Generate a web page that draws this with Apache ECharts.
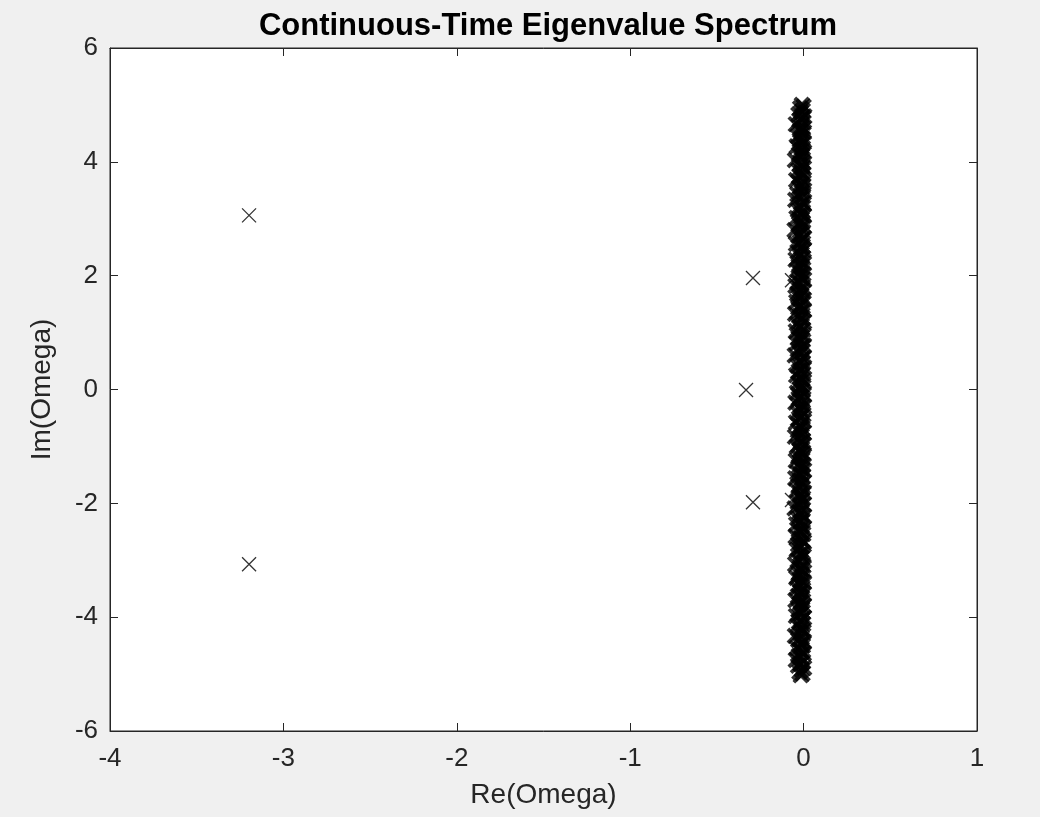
<!DOCTYPE html>
<html>
<head>
<meta charset="utf-8">
<script src="https://cdn.jsdelivr.net/npm/echarts@6/dist/echarts.min.js"></script>
<style>
html,body{margin:0;padding:0;background:#f0f0f0;}
#c{width:1040px;height:817px;}
</style>
</head>
<body>
<div id="c"></div>
<script>
const titleText = 'Continuous-Time Eigenvalue Spectrum';
const xName = 'Re(Omega)';
const yName = 'Im(Omega)';
const xTicks = [-4, -3, -2, -1, 0, 1];
const yTicks = [-6, -4, -2, 0, 2, 4, 6];

// isolated eigenvalues [re, im]
const outliers = [
  [-3.198, 3.06], [-3.198, -3.07],
  [-0.292, 1.96], [-0.332, -0.01], [-0.292, -1.98],
  [-0.067, 1.92], [-0.067, -1.94]
];

// dense band of eigenvalues near the imaginary axis [re, im]
const band = [
[-0.010,5.00],[0.000,4.97],[-0.020,4.94],[-0.005,4.90],[-0.015,4.87],[-0.030,4.83],[0.004,4.80],[-0.010,4.76],[-0.025,4.73],[0.000,4.69],
[-0.045,4.66],[-0.012,4.62],[-0.003,4.59],[-0.020,4.55],[0.002,4.52],[-0.016,4.48],[-0.034,4.45],[-0.006,4.41],[-0.022,4.38],[0.001,4.34],
[-0.011,4.31],[-0.040,4.27],[-0.004,4.24],[-0.018,4.20],[0.003,4.17],[-0.027,4.13],[-0.009,4.10],[-0.014,4.06],[-0.050,4.03],[-0.002,3.99],
[-0.021,3.96],[-0.007,3.92],[0.002,3.89],[-0.031,3.85],[-0.013,3.82],[-0.001,3.78],[-0.024,3.75],[-0.008,3.71],[-0.043,3.68],[0.000,3.64],
[-0.017,3.61],[-0.005,3.57],[-0.028,3.54],[0.003,3.50],[-0.012,3.47],[-0.036,3.43],[-0.002,3.40],[-0.019,3.36],[-0.048,3.33],[-0.006,3.29],
[0.001,3.26],[-0.023,3.22],[-0.010,3.19],[-0.033,3.15],[-0.004,3.12],[-0.015,3.08],[0.002,3.05],[-0.041,3.01],[-0.020,2.98],[-0.007,2.94],
[-0.026,2.91],[0.000,2.87],[-0.013,2.84],[-0.052,2.80],[-0.003,2.77],[-0.018,2.73],[-0.030,2.70],[0.003,2.66],[-0.009,2.63],[-0.022,2.59],
[-0.044,2.56],[-0.005,2.52],[-0.016,2.49],[0.001,2.45],[-0.035,2.42],[-0.011,2.38],[-0.024,2.35],[-0.002,2.31],[-0.046,2.28],[-0.014,2.24],
[0.002,2.21],[-0.029,2.17],[-0.008,2.14],[-0.038,2.10],[-0.019,2.07],[-0.001,2.03],[-0.025,2.00],[-0.010,1.96],[0.003,1.93],[-0.032,1.89],
[-0.015,1.86],[-0.047,1.82],[-0.004,1.79],[-0.021,1.75],[0.000,1.72],[-0.037,1.68],[-0.012,1.65],[-0.027,1.61],[0.002,1.58],[-0.042,1.54],
[-0.007,1.51],[-0.018,1.47],[-0.031,1.44],[0.001,1.40],[-0.013,1.37],[-0.049,1.33],[-0.023,1.30],[-0.005,1.26],[-0.016,1.23],[0.003,1.19],
[-0.039,1.16],[-0.010,1.12],[-0.026,1.09],[-0.002,1.05],[-0.045,1.02],[-0.017,0.98],[0.000,0.95],[-0.030,0.91],[-0.008,0.88],[-0.021,0.84],
[-0.040,0.81],[0.002,0.77],[-0.013,0.74],[-0.034,0.70],[-0.004,0.67],[-0.019,0.63],[-0.051,0.60],[0.001,0.56],[-0.011,0.53],[-0.025,0.49],
[-0.006,0.46],[-0.036,0.42],[0.003,0.39],[-0.015,0.35],[-0.028,0.32],[-0.002,0.28],[-0.043,0.25],[-0.020,0.21],[-0.009,0.18],[0.002,0.14],
[-0.032,0.11],[-0.014,0.07],[-0.001,0.04],[-0.024,0.01],
[-0.006,-0.02],[-0.038,-0.06],[0.001,-0.09],[-0.017,-0.13],[-0.029,-0.16],[-0.004,-0.20],[-0.047,-0.23],[-0.012,-0.27],[0.003,-0.30],[-0.022,-0.34],
[-0.009,-0.37],[-0.035,-0.41],[-0.001,-0.44],[-0.016,-0.48],[-0.027,-0.51],[0.002,-0.55],[-0.044,-0.58],[-0.011,-0.62],[-0.020,-0.65],[-0.005,-0.69],
[-0.033,-0.72],[0.000,-0.76],[-0.014,-0.79],[-0.050,-0.83],[-0.025,-0.86],[-0.003,-0.90],[-0.018,-0.93],[0.002,-0.97],[-0.039,-1.00],[-0.008,-1.04],
[-0.023,-1.07],[-0.013,-1.11],[0.001,-1.14],[-0.031,-1.18],[-0.006,-1.21],[-0.045,-1.25],[-0.019,-1.28],[-0.002,-1.32],[-0.027,-1.35],[-0.010,-1.39],
[0.003,-1.42],[-0.036,-1.46],[-0.015,-1.49],[-0.004,-1.53],[-0.048,-1.56],[-0.021,-1.60],[0.000,-1.63],[-0.012,-1.67],[-0.030,-1.70],[-0.007,-1.74],
[-0.041,-1.77],[0.002,-1.81],[-0.017,-1.84],[-0.026,-1.88],[-0.003,-1.91],[-0.011,-1.95],[-0.034,-1.98],[0.001,-2.02],[-0.020,-2.05],[-0.052,-2.09],
[-0.008,-2.12],[-0.024,-2.16],[-0.014,-2.19],[0.003,-2.23],[-0.037,-2.26],[-0.005,-2.30],[-0.018,-2.33],[-0.043,-2.37],[-0.010,-2.40],[0.000,-2.44],
[-0.028,-2.47],[-0.016,-2.51],[-0.002,-2.54],[-0.046,-2.58],[-0.022,-2.61],[-0.007,-2.65],[0.002,-2.68],[-0.032,-2.72],[-0.013,-2.75],[-0.025,-2.79],
[-0.040,-2.82],[-0.004,-2.86],[-0.019,-2.89],[0.001,-2.93],[-0.009,-2.96],[-0.035,-3.00],[-0.015,-3.03],[-0.049,-3.07],[-0.001,-3.10],[-0.023,-3.14],
[-0.011,-3.17],[0.003,-3.21],[-0.029,-3.24],[-0.006,-3.28],[-0.042,-3.31],[-0.017,-3.35],[0.000,-3.38],[-0.026,-3.42],[-0.012,-3.45],[-0.038,-3.49],
[-0.003,-3.52],[-0.020,-3.56],[0.002,-3.59],[-0.033,-3.63],[-0.008,-3.66],[-0.047,-3.70],[-0.014,-3.73],[-0.024,-3.77],[0.001,-3.80],[-0.010,-3.84],
[-0.030,-3.87],[-0.005,-3.91],[-0.018,-3.94],[-0.044,-3.98],[0.003,-4.01],[-0.012,-4.05],[-0.027,-4.08],[-0.002,-4.12],[-0.036,-4.15],[-0.016,-4.19],
[-0.007,-4.22],[0.000,-4.26],[-0.021,-4.29],[-0.050,-4.33],[-0.010,-4.36],[-0.031,-4.40],[0.002,-4.43],[-0.015,-4.47],[-0.004,-4.50],[-0.039,-4.54],
[-0.022,-4.57],[-0.008,-4.61],[0.001,-4.64],[-0.028,-4.68],[-0.013,-4.71],[-0.045,-4.75],[-0.003,-4.78],[-0.019,-4.82],[-0.032,-4.85],[0.003,-4.89],
[-0.011,-4.92],[-0.024,-4.96],[-0.006,-4.99],[-0.016,-5.02]
];

const FONT = '"Liberation Sans", Arial, sans-serif';
const AX = '#262626';
const cross = 'path://M0,0L10,10M10,0L0,10';

const chart = echarts.init(document.getElementById('c'), null, {renderer: 'canvas'});

function xAx(pos, showLabel) {
  return {
    type: 'value', position: pos, min: xTicks[0], max: xTicks[xTicks.length - 1], interval: 1,
    name: showLabel ? xName : '', nameLocation: 'middle', nameGap: 50,
    nameTextStyle: {fontFamily: FONT, fontSize: 28, color: AX},
    axisLine: {show: true, onZero: false, lineStyle: {color: AX, width: 1}},
    axisTick: {show: true, inside: true, length: 8, lineStyle: {color: AX}},
    axisLabel: {show: showLabel, fontFamily: FONT, fontSize: 26, color: AX, margin: 15},
    splitLine: {show: false}
  };
}
function yAx(pos, showLabel) {
  return {
    type: 'value', position: pos, min: yTicks[0], max: yTicks[yTicks.length - 1], interval: 2,
    name: showLabel ? yName : '', nameLocation: 'middle', nameGap: 54,
    nameTextStyle: {fontFamily: FONT, fontSize: 28, color: AX},
    axisLine: {show: true, onZero: false, lineStyle: {color: AX, width: 1}},
    axisTick: {show: true, inside: true, length: 8, lineStyle: {color: AX}},
    axisLabel: {show: showLabel, fontFamily: FONT, fontSize: 26, color: AX, margin: 12},
    splitLine: {show: false}
  };
}

chart.setOption({
  backgroundColor: '#f0f0f0',
  animation: false,
  title: {
    text: titleText, left: 543, top: 6, textAlign: 'center',
    textStyle: {fontFamily: FONT, fontSize: 31, fontWeight: 'bold', color: '#000'}
  },
  grid: {left: 110, right: 63, top: 48, bottom: 86, show: true, backgroundColor: '#ffffff', borderColor: AX, borderWidth: 1},
  xAxis: [xAx('bottom', true), xAx('top', false)],
  yAxis: [yAx('left', true), yAx('right', false)],
  series: [
    {
      type: 'scatter', data: band, symbol: cross, symbolSize: 14, xAxisIndex: 0, yAxisIndex: 0,
      itemStyle: {color: 'rgba(0,0,0,0)', borderColor: '#000', borderWidth: 3.8}, silent: true
    },
    {
      type: 'scatter', data: outliers, symbol: cross, symbolSize: 14, xAxisIndex: 0, yAxisIndex: 0,
      itemStyle: {color: 'rgba(0,0,0,0)', borderColor: '#000', borderWidth: 1.3}, silent: true
    }
  ]
});
</script>
</body>
</html>
